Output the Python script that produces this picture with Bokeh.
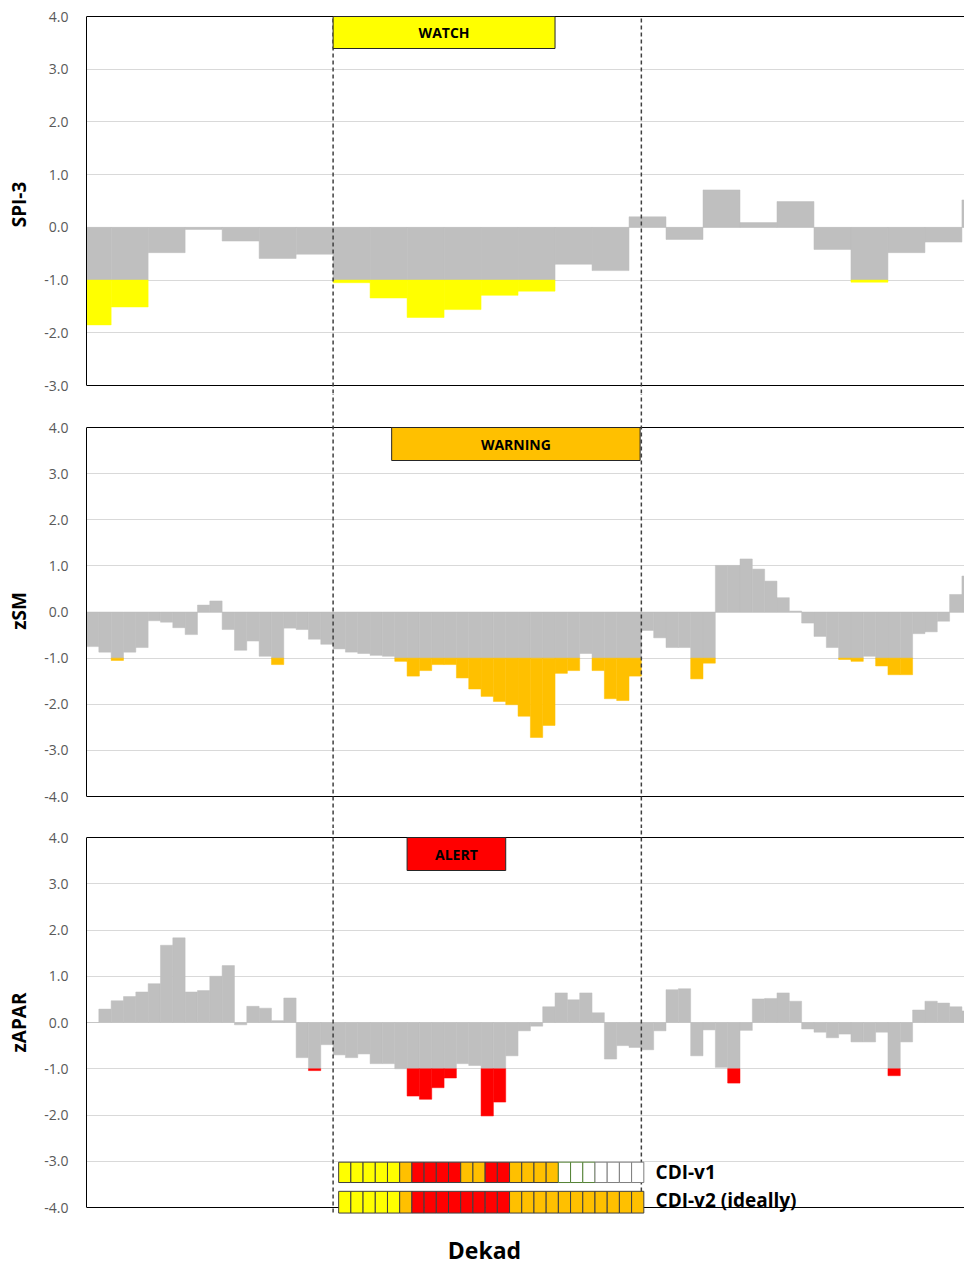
import numpy as np
from bokeh.plotting import figure
from bokeh.layouts import column
from bokeh.models import FixedTicker, NumeralTickFormatter, Range1d
from bokeh.core.properties import value
from bokeh.embed import file_html
from bokeh.resources import INLINE

# ---------------- data ----------------
# SPI-3: one value per month (first month partially shown: 2 dekads)
spi3_values = [-1.85, -1.51, -0.48, -0.04, -0.26, -0.59, -0.51, -1.05, -1.34, -1.71,
               -1.56, -1.29, -1.21, -0.70, -0.82, 0.20, -0.23, 0.71, 0.09, 0.49,
               -0.42, -1.04, -0.48, -0.28, 0.52]
spi3_start_dekad = [0] + list(range(2, 72, 3))
spi3_len_dekads = [2] + [3] * 24

# zSM: one value per dekad
zsm_values = [-0.75, -0.87, -1.05, -0.87, -0.77, -0.19, -0.22, -0.34, -0.49, 0.15,
              0.24, -0.38, -0.83, -0.63, -0.96, -1.14, -0.35, -0.38, -0.59, -0.70,
              -0.80, -0.87, -0.90, -0.94, -0.96, -1.07, -1.39, -1.27, -1.14, -1.14,
              -1.43, -1.67, -1.83, -1.94, -2.01, -2.26, -2.72, -2.46, -1.33, -1.27,
              -0.90, -1.27, -1.88, -1.92, -1.39, -0.40, -0.56, -0.77, -0.77, -1.45,
              -1.11, 1.01, 1.01, 1.15, 0.93, 0.67, 0.31, 0.02, -0.24, -0.53,
              -0.77, -1.03, -1.07, -0.96, -1.17, -1.36, -1.36, -0.47, -0.43, -0.20,
              0.38, 0.78]

# zAPAR: one value per dekad
zapar_values = [0.00, 0.29, 0.47, 0.56, 0.66, 0.84, 1.67, 1.83, 0.66, 0.69,
                1.00, 1.23, -0.05, 0.35, 0.31, 0.04, 0.53, -0.76, -1.04, -0.48,
                -0.70, -0.76, -0.68, -0.89, -0.89, -1.00, -1.59, -1.66, -1.41, -1.20,
                -0.89, -0.93, -2.02, -1.72, -0.72, -0.18, -0.08, 0.34, 0.64, 0.49,
                0.64, 0.21, -0.79, -0.50, -0.54, -0.59, -0.18, 0.71, 0.73, -0.72,
                -0.16, -0.97, -1.31, -0.17, 0.51, 0.52, 0.64, 0.46, -0.14, -0.21,
                -0.33, -0.25, -0.42, -0.42, -0.21, -1.15, -0.42, 0.27, 0.46, 0.42,
                0.34, 0.25]

# warning periods (dekads) and labels
watch_period = (20, 38)
warning_period = (24.75, 44.9)
alert_period = (26, 34)
event_bounds = [20, 45]

# CDI strips (one cell per dekad, starting at the event)
cdi_v1 = (["watch"] * 5 + ["warning"] + ["alert"] * 4 + ["warning"] * 2 + ["alert"] * 2
          + ["warning"] * 4 + ["recovery"] * 3 + ["none"] * 4)
cdi_v2 = ["watch"] * 5 + ["warning"] + ["alert"] * 8 + ["warning"] * 11
cdi_labels = ["CDI-v1", "CDI-v2 (ideally)"]
x_title = "Dekad"

# ---------------- style ----------------
FONT = "Open Sans"
GRAY = "#BFBFBF"
YELLOW = "#FFFF00"
ORANGE = "#FFC000"
RED = "#FF0000"
LEVEL_FILL = {"watch": YELLOW, "warning": ORANGE, "alert": RED, "recovery": "white", "none": "white"}
LEVEL_LINE = {"watch": "#404040", "warning": "#404040", "alert": "#404040", "recovery": "#548235", "none": "#7F7F7F"}

DEKAD_PX = 12.33
X_END = 878 / DEKAD_PX


def panel(height, y0, y1, ticks, label, mb_top, mb_bottom):
    p = figure(width=964, height=height, output_backend="svg", toolbar_location=None,
               x_range=Range1d(0, X_END), y_range=Range1d(y0, y1),
               x_axis_location=None, min_border_left=86, min_border_right=0,
               min_border_top=mb_top, min_border_bottom=mb_bottom,
               outline_line_color=None, background_fill_color="white",
               border_fill_color="white")
    p.xgrid.visible = False
    ax = p.yaxis[0]
    ax.ticker = FixedTicker(ticks=ticks)
    ax.formatter = NumeralTickFormatter(format="0.0")
    ax.bounds = (ticks[0], ticks[-1])
    ax.major_tick_out = 0
    ax.major_tick_in = 0
    ax.minor_tick_out = 0
    ax.minor_tick_in = 0
    ax.major_label_standoff = 18
    ax.major_label_text_font = FONT
    ax.major_label_text_font_size = "14px"
    ax.major_label_text_color = "#595959"
    ax.axis_line_color = "black"
    ax.axis_line_width = 1
    ax.axis_label = label
    ax.axis_label_text_font = FONT
    ax.axis_label_text_font_style = "bold"
    ax.axis_label_text_font_size = "19px"
    ax.axis_label_text_color = "black"
    ax.axis_label_standoff = 9
    p.ygrid.grid_line_color = "#D9D9D9"
    p.ygrid.grid_line_width = 1
    return p


def bars(p, left, width, vals, color):
    v = np.asarray(vals, dtype=float)
    left = np.asarray(left, dtype=float)
    right = left + np.asarray(width, dtype=float)
    p.quad(left=left, right=right, bottom=np.maximum(np.minimum(v, 0), -1), top=np.maximum(v, 0),
           fill_color=GRAY, line_color=GRAY, line_width=0.5)
    m = v < -1
    if m.any():
        p.quad(left=left[m], right=right[m], bottom=v[m], top=-1,
               fill_color=color, line_color=color, line_width=0.5)


def frame_lines(p, ytop, ybot, y0, y1):
    p.segment(x0=[0, 0], x1=[X_END, X_END], y0=[ytop, ybot], y1=[ytop, ybot],
              line_color="black", line_width=1)
    p.segment(x0=event_bounds, x1=event_bounds, y0=[y0] * 2, y1=[y1] * 2,
              line_color="#404040", line_width=1.5, line_dash="4 3")


def box(p, period, ytop, ybot, color, text):
    p.quad(left=[period[0]], right=[period[1]], top=[ytop], bottom=[ybot],
           fill_color=color, line_color="#262626", line_width=1)
    p.text(x=[(period[0] + period[1]) / 2], y=[(ytop + ybot) / 2], text=[text],
           text_align="center", text_baseline="middle", text_font=value(FONT),
           text_font_style="bold", text_font_size="14px", text_color="black")


# ---------------- top panel : SPI-3 ----------------
# frame 15..393 px
s1 = (385 - 16) / 7
t_y0, t_y1 = -3 - 8 / s1, 4 + 1 / s1
p1 = panel(393, t_y0, t_y1, [-3, -2, -1, 0, 1, 2, 3, 4], "SPI-3", 15, 0)
bars(p1, np.array(spi3_start_dekad), spi3_len_dekads, spi3_values, YELLOW)
frame_lines(p1, 4, -3, t_y0, t_y1)
box(p1, watch_period, 4, 4 - 32 / s1, YELLOW, "WATCH")

# ---------------- middle panel : zSM ----------------
# frame 393..828 px
s2 = (796 - 427) / 8
m_y0, m_y1 = -4 - 32 / s2, 4 + 34 / s2
p2 = panel(435, m_y0, m_y1, [-4, -3, -2, -1, 0, 1, 2, 3, 4], "zSM", 0, 0)
bars(p2, np.arange(len(zsm_values)), np.ones(len(zsm_values)), zsm_values, ORANGE)
frame_lines(p2, 4, -4, m_y0, m_y1)
box(p2, warning_period, 4, 4 - 33 / s2, ORANGE, "WARNING")

# ---------------- bottom panel : zAPAR ----------------
# frame 828..1216 px
s3 = (1207 - 837) / 8
b_y0, b_y1 = -4 - 9 / s3, 4 + 9 / s3
p3 = panel(388, b_y0, b_y1, [-4, -3, -2, -1, 0, 1, 2, 3, 4], "zAPAR", 0, 0)
bars(p3, np.arange(len(zapar_values)), np.ones(len(zapar_values)), zapar_values, RED)
frame_lines(p3, 4, -4, -4 - 5 / s3, b_y1)
box(p3, alert_period, 4, 4 - 33 / s3, RED, "ALERT")

# CDI strips
cell_w = 0.99
x_cells = 20.45 + cell_w * (np.arange(len(cdi_v1)) + 0.5)
p3.rect(x=x_cells, y=-3.24, width=cell_w, height=0.44,
        fill_color=[LEVEL_FILL[c] for c in cdi_v1],
        line_color=[LEVEL_LINE[c] for c in cdi_v1], line_width=1)
p3.rect(x=x_cells, y=-3.885, width=cell_w, height=0.47,
        fill_color=[LEVEL_FILL[c] for c in cdi_v2],
        line_color=[LEVEL_LINE[c] for c in cdi_v2], line_width=1)
p3.text(x=[46.15, 46.15], y=[-3.23, -3.83], text=cdi_labels,
        text_align="left", text_baseline="middle", text_font=value(FONT),
        text_font_style="bold", text_font_size="19px", text_color="black")

# ---------------- x-axis title strip (frame aligned with the panels) ----------------
p4 = figure(width=964, height=50, output_backend="svg", toolbar_location=None,
            x_range=Range1d(0, X_END), y_range=Range1d(0, 50),
            x_axis_location=None, y_axis_location=None,
            min_border_left=86, min_border_right=0, min_border_top=0, min_border_bottom=0,
            outline_line_color=None, background_fill_color="white", border_fill_color="white")
p4.xgrid.visible = False
p4.ygrid.visible = False
p4.text(x=[(484 - 86) / DEKAD_PX], y=[17], text=[x_title], text_align="center",
        text_baseline="middle", text_font=value(FONT), text_font_style="bold",
        text_font_size="23px", text_color="black")

layout = column(p1, p2, p3, p4, spacing=0)
open("out.html", "w").write(file_html(layout, INLINE))
